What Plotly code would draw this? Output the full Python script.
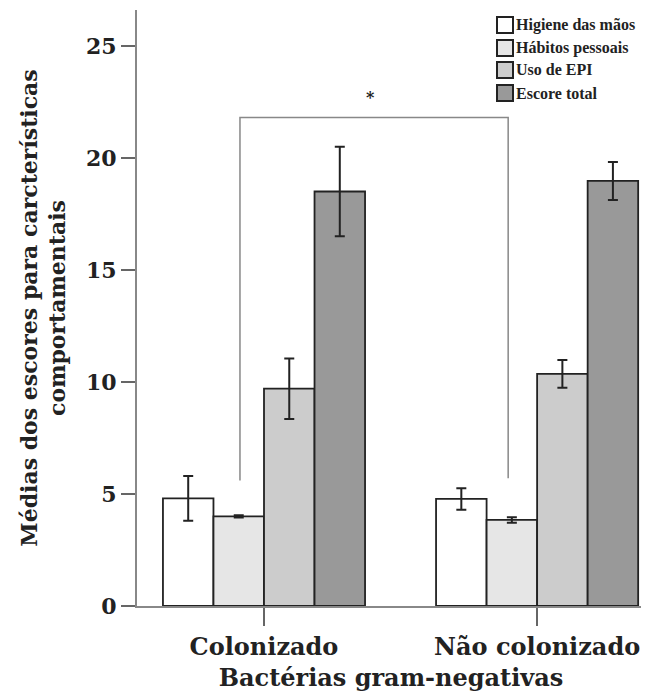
import plotly.graph_objects as go

categories = ["Colonizado", "Não colonizado"]
series_names = ["Higiene das mãos", "Hábitos pessoais", "Uso de EPI", "Escore total"]
means = [
    [4.8, 4.78],
    [4.0, 3.84],
    [9.7, 10.36],
    [18.5, 18.97],
]
errors = [
    [1.0, 0.48],
    [0.05, 0.12],
    [1.35, 0.62],
    [2.0, 0.85],
]
colors = ["#ffffff", "#e6e6e6", "#cccccc", "#999999"]

# significance bracket (category units, score units)
bracket_x = [-0.088, -0.088, 0.894, 0.894]
bracket_y = [5.6, 21.8, 21.8, 5.7]
star_pos = (0.39, 22.7)

font_family = "DejaVu Serif"
legend_family = "Liberation Serif"
ink = "#222222"

# figure geometry (browser body adds 8px offset)
W, H = 641, 690
ML, MR, MT, MB = 129, 4, 2, 92
PW, PH = W - ML - MR, H - MT - MB

fig = go.Figure()
for name, vals, errs, col in zip(series_names, means, errors, colors):
    fig.add_trace(go.Bar(
        name=name, x=[0, 1], y=vals, showlegend=False,
        marker=dict(color=col, line=dict(color=ink, width=1.8)),
        error_y=dict(type="data", array=errs, color=ink, thickness=2, width=5),
    ))

fig.add_trace(go.Scatter(
    x=bracket_x, y=bracket_y, mode="lines",
    line=dict(color="#888888", width=1.5), showlegend=False, hoverinfo="skip",
))

fig.add_annotation(x=star_pos[0], y=star_pos[1], text="*", showarrow=False,
                   font=dict(family=font_family, size=16, color=ink, weight="bold"))

# custom legend (pixel layout -> paper coords)
def px_x(px):
    return (px - ML) / PW

def px_y(py):
    return (H - MB - py) / PH

leg_left, box = 489, 16
leg_rows = [17, 40, 62, 85]
for name, col, cy in zip(series_names, colors, leg_rows):
    fig.add_shape(type="rect", xref="paper", yref="paper",
                  x0=px_x(leg_left), x1=px_x(leg_left + box),
                  y0=px_y(cy + box / 2), y1=px_y(cy - box / 2),
                  fillcolor=col, line=dict(color=ink, width=2))
    fig.add_annotation(xref="paper", yref="paper", x=px_x(leg_left + box + 1), y=px_y(cy),
                       xanchor="left", yanchor="middle", text=name, showarrow=False,
                       font=dict(family=legend_family, size=16, color=ink, weight="bold"))

fig.update_layout(
    width=W, height=H,
    margin=dict(l=ML, r=MR, t=MT, b=MB),
    paper_bgcolor="white", plot_bgcolor="white",
    barmode="group", bargap=0.26, bargroupgap=0,
    font=dict(family=font_family, color=ink, weight="bold"),
    showlegend=False,
)

fig.update_xaxes(
    range=[-0.465, 1.395], tickvals=[0, 1], ticktext=categories,
    showline=True, linecolor="#888888", linewidth=2,
    ticks="outside", ticklen=18, tickcolor="#666666", tickwidth=1.5,
    tickfont=dict(family=font_family, size=24, weight="bold", color=ink),
    title=dict(text="Bactérias gram-negativas", standoff=9,
               font=dict(family=font_family, size=24, weight="bold", color=ink)),
    showgrid=False, zeroline=False,
)
fig.update_yaxes(
    range=[0, 26.6], tickvals=[0, 5, 10, 15, 20, 25],
    showline=True, linecolor="#888888", linewidth=2,
    ticks="outside", ticklen=14, tickcolor="#666666", tickwidth=1.5,
    tickfont=dict(family=font_family, size=22, weight="bold", color=ink),
    title=dict(text="Médias dos escores para carcterísticas<br>comportamentais", standoff=14,
               font=dict(family=font_family, size=22, weight="bold", color=ink)),
    showgrid=False, zeroline=False,
)

fig.write_html("out.html")
